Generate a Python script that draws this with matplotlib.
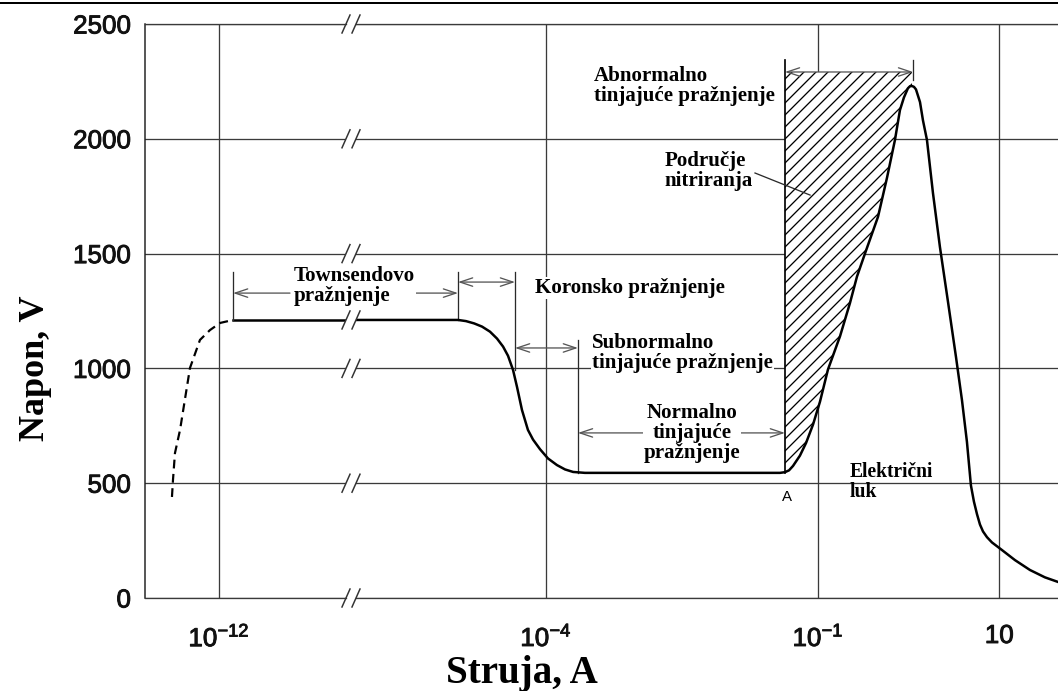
import matplotlib
matplotlib.use("Agg")
import matplotlib.pyplot as plt
import matplotlib.patheffects as pe
from matplotlib.lines import Line2D
from matplotlib.transforms import IdentityTransform

# ---------------- data ----------------
# dashed low-current start (left part of the broken axis)
dash_I = [3.03e-13, 3.11e-13, 3.27e-13, 3.72e-13, 4.22e-13, 4.79e-13,
          6.17e-13, 7.96e-13, 1.03e-12, 1.43e-12]
dash_V = [440, 514, 631, 732, 867, 1002, 1124, 1167, 1198, 1211]

# solid Townsend plateau on the left part
left_I = [1.43e-12, 1.0e-10]
left_V = [1211, 1211]

# main solid curve on the right part
main_I = [5.0e-7, 1.07e-5, 1.31e-5, 1.61e-5, 1.97e-5, 2.41e-5, 2.88e-5, 3.36e-5,
          3.81e-5, 4.33e-5, 4.79e-5, 5.43e-5, 6.32e-5, 7.19e-5, 8.59e-5, 1.05e-4,
          1.32e-4, 1.62e-4, 1.99e-4, 2.69e-4, 0.0381, 0.0432, 0.0479, 0.0530,
          0.0632, 0.0738, 0.0881, 0.1052, 0.1288, 0.175, 0.2254, 0.2692, 0.3296,
          0.459, 0.5768, 0.7063, 0.8017, 0.8872, 0.9817, 1.035, 1.089, 1.146,
          1.205, 1.334, 1.439, 1.592, 1.854, 2.213, 2.716, 3.327, 3.873, 4.395,
          4.864, 5.248, 5.675, 6.12, 6.607, 7.31, 8.299, 10.69, 14.89, 21.78,
          31.84, 44.36, 60.1]
main_V = [1211, 1211, 1206, 1196, 1182, 1160, 1130, 1095, 1055, 993, 919, 819,
          732, 690, 648, 608, 579, 560, 549, 545, 545, 548, 556, 575, 620, 675,
          755, 855, 995, 1140, 1285, 1400, 1500, 1660, 1830, 1995, 2125, 2180,
          2220, 2229, 2230, 2226, 2215, 2160, 2080, 1995, 1764, 1529, 1290, 1050,
          862, 680, 490, 420, 365, 320, 290, 265, 242, 209, 165, 122, 90, 70, 55]

# region boundaries (current, A)
townsend_start = 1.43e-12
townsend_end = 1.07e-5
corona_end = 4.55e-5
subnormal_end = 2.25e-4
normal_end = 0.0432
abnormal_end = 1.12
abnormal_top = 2291

y_ticks = [0, 500, 1000, 1500, 2000, 2500]
y_tick_labels = ["0", "500", "1000", "1500", "2000", "2500"]
xL_ticks = [1e-12]
xL_tick_labels = [r"$10^{-12}$"]
xR_ticks = [1e-4, 1e-1, 10]
xR_tick_labels = [r"$10^{-4}$", r"$10^{-1}$", "10"]

# ---------------- figure ----------------
plt.rcParams["mathtext.fontset"] = "custom"
plt.rcParams["mathtext.rm"] = "Liberation Sans"
plt.rcParams["mathtext.it"] = "Liberation Sans:italic"
plt.rcParams["mathtext.bf"] = "Liberation Sans:bold"
plt.rcParams["hatch.linewidth"] = 1.3

DPI = 72
W, H = 1058, 691
fig = plt.figure(figsize=(W / DPI, H / DPI), dpi=DPI)

y0, y1 = 598, 24          # pixel rows of 0 V and 2500 V
axL = fig.add_axes([145 / W, (H - y0) / H, (346 - 145) / W, (y0 - y1) / H])
axR = fig.add_axes([356 / W, (H - y0) / H, (W - 356) / W, (y0 - y1) / H])

GRID = "#3a3a3a"
SERIF = dict(family="Liberation Serif", weight="bold")
SANS = dict(family="Liberation Sans")
HEAVY = [pe.withStroke(linewidth=0.9, foreground="#111111")]

for ax in (axL, axR):
    ax.set_xscale("log")
    ax.set_ylim(0, 2500)
    ax.set_yticks(y_ticks)
    ax.xaxis.set_minor_locator(matplotlib.ticker.NullLocator())
    ax.grid(True, color=GRID, lw=1.3)
    ax.set_axisbelow(True)
    ax.tick_params(length=0)
    for s in ("top", "bottom"):
        ax.spines[s].set_color(GRID)
        ax.spines[s].set_linewidth(1.3)
    ax.spines["right"].set_visible(False)

axL.set_xlim(1.528e-13, 2.518e-11)
axR.set_xlim(8.02e-7, 44.4)
axR.spines["left"].set_visible(False)
axL.spines["left"].set_color("#222222")
axL.spines["left"].set_linewidth(1.5)

axL.set_yticklabels(y_tick_labels, fontsize=26, color="#111111", **SANS)
axL.tick_params(axis="y", pad=14)
axR.set_yticklabels([])
axL.set_xticks(xL_ticks)
axL.set_xticklabels(xL_tick_labels, fontsize=26, color="#111111", **SANS)
axR.set_xticks(xR_ticks)
axR.set_xticklabels(xR_tick_labels, fontsize=26, color="#111111", **SANS)
for ax in (axL, axR):
    ax.tick_params(axis="x", pad=26)
    for lab in ax.get_xticklabels() + ax.get_yticklabels():
        lab.set_path_effects(HEAVY)

# curves
axL.plot(dash_I, dash_V, color="black", lw=2.2, ls=(0, (4, 2.5)))
axL.plot(left_I, left_V, color="black", lw=2.5)
axR.plot(main_I, main_V, color="black", lw=2.5, zorder=5)

# hatched nitriding region (bounded by the rising curve)
rise = [(i, v) for i, v in zip(main_I, main_V) if normal_end <= i <= 1.089]
poly_I = [normal_end] + [p[0] for p in rise] + [rise[-1][0], normal_end]
poly_V = [545] + [p[1] for p in rise] + [abnormal_top, abnormal_top]
axR.fill(poly_I, poly_V, facecolor="white", edgecolor="black", hatch="//",
         lw=0, zorder=3)

# boundary lines
LC = "#2a2a2a"
axL.plot([townsend_start] * 2, [1211, 1420], color=LC, lw=1.3)
axR.plot([townsend_end] * 2, [1211, 1420], color=LC, lw=1.3)
axR.plot([corona_end] * 2, [993, 1420], color=LC, lw=1.3)
axR.plot([subnormal_end] * 2, [545, 1124], color=LC, lw=1.3)
axR.plot([normal_end] * 2, [545, 2343], color="black", lw=1.7, zorder=6)
axR.plot([abnormal_end] * 2, [2256, 2343], color=LC, lw=1.3, zorder=6)

AC = "#555555"
def arrow(ax, xa, xb, y, style="<->"):
    ax.annotate("", xy=(xb, y), xytext=(xa, y),
                arrowprops=dict(arrowstyle=style + ",head_length=0.9,head_width=0.3",
                                color=AC, lw=1.3, shrinkA=0, shrinkB=0,
                                mutation_scale=14), zorder=4, annotation_clip=False)

arrow(axL, 6.07e-12, townsend_start, 1328, "->")
arrow(axR, 3.41e-6, townsend_end, 1328, "->")
arrow(axR, townsend_end, corona_end, 1376)
arrow(axR, corona_end, subnormal_end, 1089)
arrow(axR, subnormal_end, normal_end, 719)
arrow(axR, normal_end, abnormal_end, abnormal_top)

# leader line to hatched area
axR.plot([0.0202, 0.0817], [1851, 1755], color=LC, lw=1.3, zorder=6)

WB = dict(facecolor="white", edgecolor="none", pad=1)
FS = 21
fig.text(6.7e-12, 1359, "Townsendovo\npražnjenje", transform=axL.transData,
         ha="left", va="center", fontsize=FS, linespacing=1.0, bbox=WB,
         zorder=7, **SERIF)
axR.text(7.57e-5, 1350, "Koronsko pražnjenje", ha="left", va="center",
         fontsize=FS, bbox=WB, zorder=7, **SERIF)
axR.text(3.21e-4, 1067, "Subnormalno\ntinjajuće pražnjenje", ha="left", va="center",
         fontsize=FS, linespacing=1.0, bbox=WB, zorder=7, **SERIF)
axR.text(4.07e-3, 719, "Normalno\ntinjajuće\npražnjenje", ha="center", va="center",
         fontsize=FS, linespacing=1.0, bbox=WB, zorder=7, **SERIF)
axR.text(3.38e-4, 2230, "Abnormalno\ntinjajuće pražnjenje", ha="left", va="center",
         fontsize=FS, linespacing=0.95, zorder=7, **SERIF)
axR.text(2.05e-3, 1860, "Područje\nnitriranja", ha="left", va="center",
         fontsize=FS, linespacing=0.95, zorder=7, **SERIF)
axR.text(0.2254, 505, "Električni\nluk", ha="left", va="center",
         fontsize=19.5, linespacing=1.05, zorder=7, **SERIF)
axR.text(0.0455, 440, "A", ha="center", va="center", fontsize=15, zorder=7, **SANS)

# axis titles
fig.text(35 / W, 1 - 368 / H, "Napon, V", rotation=90, ha="center", va="center",
         fontsize=36, **SERIF)
fig.text(522 / W, 1 - 673 / H, "Struja, A", ha="center", va="center",
         fontsize=39, **SERIF)

# axis-break marks
for v in y_ticks + [1211]:
    for ax, xe in ((axL, axL.get_xlim()[1]), (axR, axR.get_xlim()[0])):
        px, py = ax.transData.transform((xe, v))
        fig.add_artist(Line2D([px - 4, px + 4], [py - 9, py + 9],
                              transform=IdentityTransform(), color="#333333", lw=1.5))

# top border line of the scan
fig.add_artist(Line2D([0, 1], [1 - 3 / H, 1 - 3 / H], transform=fig.transFigure,
                      color="black", lw=2))

fig.savefig("out.png", dpi=DPI)
